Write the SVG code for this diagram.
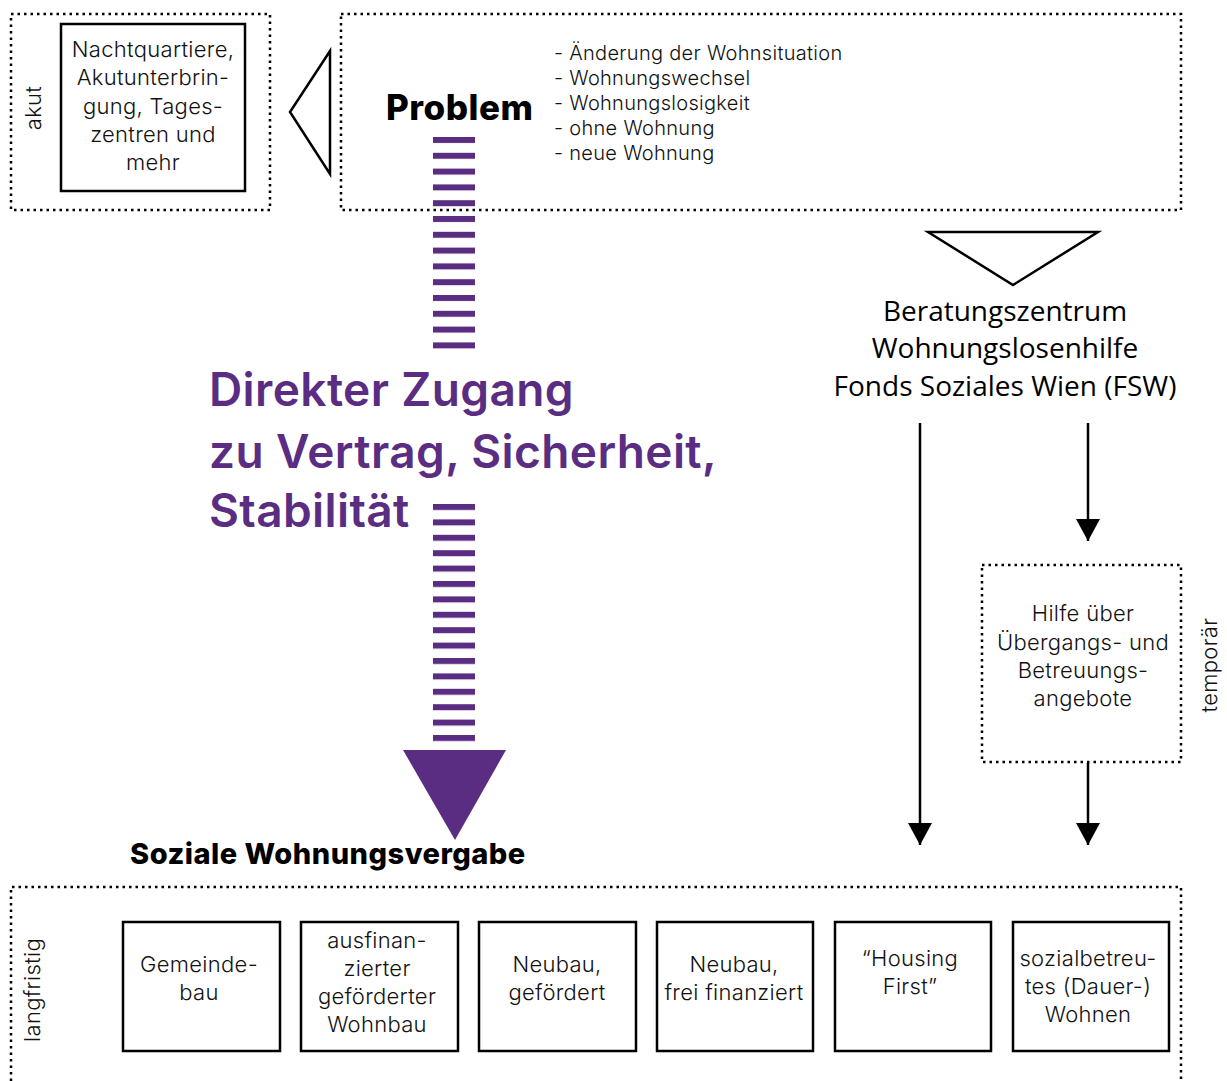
<svg xmlns="http://www.w3.org/2000/svg" width="1227" height="1081" viewBox="0 0 1227 1081">
<style>
.dot{fill:none;stroke:#000;stroke-width:2.5;stroke-dasharray:2.5 4}
.box{fill:#fff;stroke:#000;stroke-width:2.5}
.t{font-family:Inter,"Noto Sans",sans-serif;font-weight:300;font-size:22px;letter-spacing:0.3px;fill:#111;text-anchor:middle}
.b{font-family:Inter,"Noto Sans",sans-serif;font-weight:300;font-size:20px;letter-spacing:0.3px;fill:#111}
.m{font-family:"Open Sans","Noto Sans",sans-serif;font-size:28px;fill:#000;text-anchor:middle}
.p{font-family:Inter,"Noto Sans",sans-serif;font-size:46px;font-weight:600;letter-spacing:0.4px;fill:#5a2d82}
.h{font-family:Inter,"Noto Sans",sans-serif;font-weight:800;letter-spacing:0.5px;fill:#000}
.ln{stroke:#000;stroke-width:2.5;fill:none}
</style>
<defs>
<pattern id="stripes" x="0" y="137" width="42" height="15.8" patternUnits="userSpaceOnUse">
<rect x="0" y="0" width="42" height="6" fill="#5a2d82"/>
</pattern>
<pattern id="stripes2" x="0" y="504" width="42" height="15.4" patternUnits="userSpaceOnUse">
<rect x="0" y="0" width="42" height="6" fill="#5a2d82"/>
</pattern>
<marker id="ah" viewBox="0 0 22 24" refX="22" refY="12" markerWidth="22" markerHeight="24" markerUnits="userSpaceOnUse" orient="auto">
<path d="M0 0 L22 12 L0 24 Z" fill="#000"/>
</marker>
</defs>

<g id="akut-zone">
<rect class="dot" x="11" y="14" width="259" height="196"/>
<text class="t" transform="translate(41,108) rotate(-90)">akut</text>
</g>
<g id="akut-box">
<rect class="box" x="61" y="24" width="184" height="167"/>
<text class="t"><tspan x="153" y="57">Nachtquartiere,</tspan><tspan x="153" y="85">Akutunterbrin-</tspan><tspan x="153" y="114">gung, Tages-</tspan><tspan x="153" y="142">zentren und</tspan><tspan x="153" y="170">mehr</tspan></text>
</g>

<g id="problem">
<rect class="dot" x="341" y="14" width="840" height="196"/>
<text class="h" x="386" y="120" font-size="35">Problem</text>
<text class="b"><tspan x="554" y="60">- Änderung der Wohnsituation</tspan><tspan x="554" y="85">- Wohnungswechsel</tspan><tspan x="554" y="110">- Wohnungslosigkeit</tspan><tspan x="554" y="135">- ohne Wohnung</tspan><tspan x="554" y="160">- neue Wohnung</tspan></text>
</g>

<g id="direkter-zugang">
<rect x="433" y="137" width="42" height="215" fill="url(#stripes)"/>
<rect x="433" y="504" width="42" height="246" fill="url(#stripes2)"/>
<polygon points="403,750 506,750 455,840" fill="#5a2d82"/>
<text class="p"><tspan x="209" y="406">Direkter Zugang</tspan><tspan x="209" y="468">zu Vertrag, Sicherheit,</tspan><tspan x="209" y="527">Stabilität</tspan></text>
</g>

<g id="beratungszentrum">
<text class="m"><tspan x="1005" y="321">Beratungszentrum</tspan><tspan x="1005" y="358">Wohnungslosenhilfe</tspan><tspan x="1005" y="396">Fonds Soziales Wien (FSW)</tspan></text>
</g>

<g id="temporaer">
<rect class="dot" x="982" y="565" width="199" height="197"/>
<text class="t"><tspan x="1083" y="621">Hilfe über</tspan><tspan x="1083" y="650">Übergangs- und</tspan><tspan x="1083" y="678">Betreuungs-</tspan><tspan x="1083" y="706">angebote</tspan></text>
<text class="t" transform="translate(1217,665) rotate(-90)">temporär</text>
</g>

<g id="soziale-wohnungsvergabe">
<text class="h" x="130" y="864" font-size="29">Soziale Wohnungsvergabe</text>
<path class="dot" d="M11 1081 L11 887 L1181 887 L1181 1081"/>
<text class="t" transform="translate(40,990) rotate(-90)">langfristig</text>
</g>
<g id="gemeindebau"><rect class="box" x="123" y="922" width="157" height="129"/><text class="t"><tspan x="199" y="972">Gemeinde-</tspan><tspan x="199" y="1000">bau</tspan></text></g>
<g id="ausfinanziert"><rect class="box" x="301" y="922" width="157" height="129"/><text class="t"><tspan x="377" y="948">ausfinan-</tspan><tspan x="377" y="976">zierter</tspan><tspan x="377" y="1004">geförderter</tspan><tspan x="377" y="1032">Wohnbau</tspan></text></g>
<g id="neubau-gefoerdert"><rect class="box" x="479" y="922" width="157" height="129"/><text class="t"><tspan x="557" y="972">Neubau,</tspan><tspan x="557" y="1000">gefördert</tspan></text></g>
<g id="neubau-frei"><rect class="box" x="657" y="922" width="156" height="129"/><text class="t"><tspan x="734" y="972">Neubau,</tspan><tspan x="734" y="1000">frei finanziert</tspan></text></g>
<g id="housing-first"><rect class="box" x="835" y="922" width="156" height="129"/><text class="t"><tspan x="910" y="966">“Housing</tspan><tspan x="910" y="994">First”</tspan></text></g>
<g id="sozialbetreut"><rect class="box" x="1013" y="922" width="156" height="129"/><text class="t"><tspan x="1088" y="966">sozialbetreu-</tspan><tspan x="1088" y="994">tes (Dauer-)</tspan><tspan x="1088" y="1022">Wohnen</tspan></text></g>

<g id="connectors">
<polygon class="ln" points="330,51 290,112 330,174" stroke-linejoin="miter"/>
<polygon class="ln" points="928,232 1098,232 1013,285"/>
<line class="ln" x1="920" y1="423" x2="920" y2="845" marker-end="url(#ah)"/>
<line class="ln" x1="1088" y1="423" x2="1088" y2="541" marker-end="url(#ah)"/>
<line class="ln" x1="1088" y1="763" x2="1088" y2="845" marker-end="url(#ah)"/>
</g>
</svg>
